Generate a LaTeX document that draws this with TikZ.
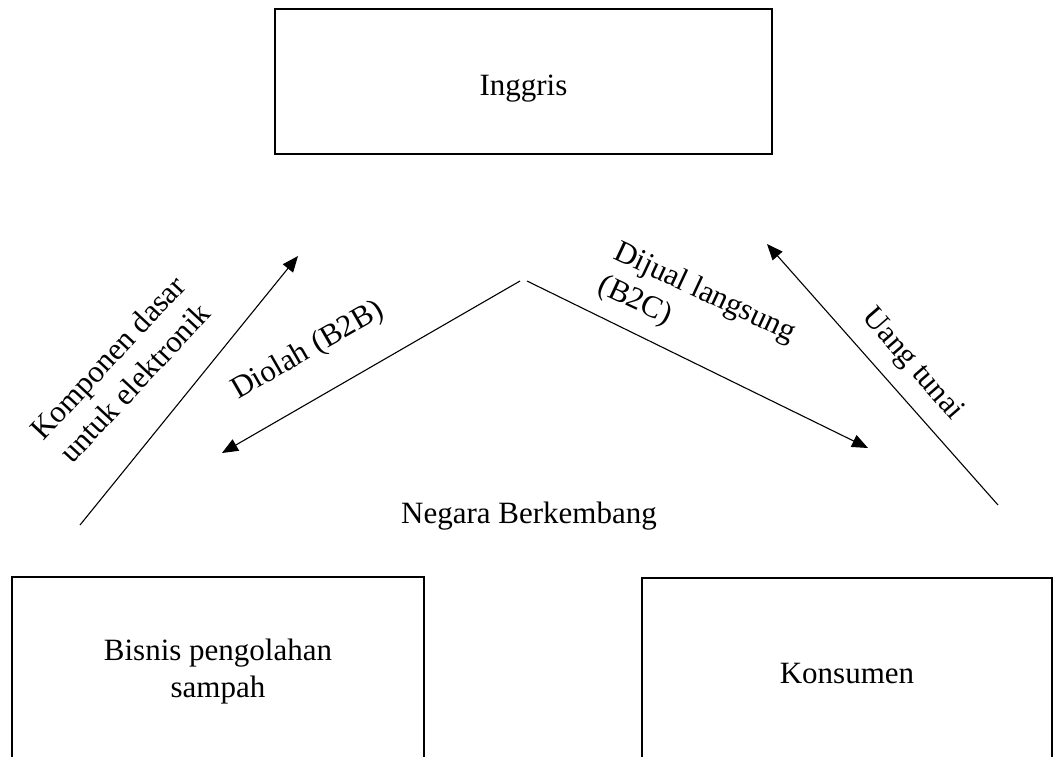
\documentclass[tikz,border=0pt]{standalone}
\usepackage{fontspec}
\setmainfont{Liberation Serif}
\usetikzlibrary{arrows.meta}

\begin{document}
\begin{tikzpicture}[x=1pt, y=1pt,
  kotak/.style = {draw, line width=2.2pt, inner sep=0pt},
  teks/.style = {font=\fontsize{31}{37}\selectfont, inner sep=0pt},
  garis/.style = {line width=1.1pt},
  panah/.style = {line width=1.1pt, -{Triangle[length=16pt, width=13pt]}}]
\clip (0,0) rectangle (1053,-756);

\node[kotak, teks, minimum width=497pt, minimum height=145pt, text height=34pt, text depth=7pt] (inggris) at (523.5,-81.5) {Inggris};
\node[kotak, teks, align=center, minimum width=412pt, minimum height=190pt] (bisnis) at (218,-672) {Bisnis pengolahan\\sampah};
\node[kotak, teks, minimum width=410pt, minimum height=190pt] (konsumen) at (847,-673) {Konsumen};

\node[teks, anchor = base] (negara) at (529,-523) {Negara Berkembang};

\coordinate (kompBawah) at (80,-525);
\coordinate (kompAtas) at (298,-256);
\draw[panah] (kompBawah) -- (kompAtas);
\node[teks, rotate=47, align=center] (komponen) at (121,-370) {Komponen dasar\\untuk elektronik};

\coordinate (puncakKiri) at (520,-281);
\coordinate (diolahUjung) at (222,-453);
\draw[panah] (puncakKiri) -- (diolahUjung);
\node[teks, rotate=30] (diolah) at (308,-351) {Diolah (B2B)};

\coordinate (puncakKanan) at (527,-281);
\coordinate (dijualUjung) at (868,-448);
\draw[panah] (puncakKanan) -- (dijualUjung);
\node[teks, rotate=-25, align=left] (dijual) at (697,-310) {Dijual langsung\\(B2C)};

\coordinate (uangBawah) at (998,-505);
\coordinate (uangAtas) at (767,-244);
\draw[panah] (uangBawah) -- (uangAtas);
\node[teks, rotate=-49] (uang) at (912,-365) {Uang tunai};
\end{tikzpicture}
\end{document}
